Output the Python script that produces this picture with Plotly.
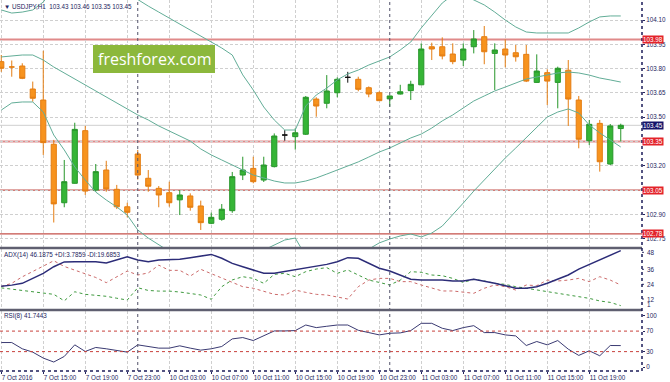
import plotly.graph_objects as go

# ---------------- data ----------------
bar_index = list(range(60))
open_ = [103.843,103.81,103.816,103.674,103.606,103.333,102.972,103.092,103.417,103.05,
         103.174,103.055,102.947,103.273,103.123,103.061,103.034,102.99,103.014,102.952,
         102.845,102.87,102.923,103.143,103.184,103.112,103.195,103.39,103.38,103.395,
         103.612,103.586,103.651,103.746,103.734,103.682,103.651,103.613,103.643,103.664,
         103.70,103.935,103.935,103.89,103.853,103.935,103.997,103.894,103.921,103.898,
         103.888,103.715,103.775,103.715,103.79,103.606,103.355,103.462,103.211,103.43]
high = [103.884,103.85,103.833,103.72,103.91,103.36,103.236,103.466,103.446,103.211,
        103.231,103.082,102.972,103.298,103.174,103.075,103.102,103.05,103.03,102.985,
        102.911,102.964,103.162,103.256,103.256,103.256,103.40,103.42,103.432,103.631,
        103.623,103.76,103.746,103.78,103.75,103.69,103.66,103.635,103.70,103.725,
        103.956,103.96,103.993,103.956,103.956,104.038,104.063,103.956,103.98,103.946,
        103.946,103.888,103.796,103.812,103.853,103.631,103.483,103.483,103.458,103.46]
low = [103.78,103.75,103.735,103.596,103.267,102.85,102.944,103.09,103.02,103.04,
       103.04,102.933,102.882,103.115,103.04,102.944,102.948,102.896,102.923,102.804,
       102.84,102.861,102.91,103.112,103.092,103.10,103.19,103.355,103.30,103.39,
       103.503,103.555,103.623,103.713,103.66,103.623,103.60,103.565,103.64,103.606,
       103.70,103.853,103.857,103.827,103.816,103.894,103.827,103.668,103.808,103.843,
       103.717,103.713,103.575,103.555,103.446,103.308,103.328,103.164,103.205,103.35]
close = [103.802,103.81,103.74,103.617,103.343,102.965,103.102,103.425,103.044,103.164,
         103.057,102.947,102.913,103.143,103.074,103.02,102.972,103.02,102.944,102.849,
         102.882,102.932,103.133,103.174,103.102,103.205,103.384,103.39,103.404,103.623,
         103.569,103.662,103.734,103.746,103.672,103.643,103.602,103.631,103.657,103.703,
         103.921,103.921,103.878,103.843,103.921,103.983,103.904,103.915,103.884,103.873,
         103.723,103.785,103.723,103.802,103.612,103.364,103.456,103.225,103.446,103.45]

bb_upper = [104.162,104.143,104.149,104.162,104.211,104.298,104.378,104.409,104.409,104.396,
            104.359,104.316,104.267,104.224,104.186,104.149,104.112,104.075,104.038,104.001,
            103.964,103.927,103.884,103.761,103.668,103.563,103.483,103.421,103.421,103.569,
            103.637,103.680,103.730,103.767,103.791,103.822,103.847,103.872,103.915,103.964,
            104.051,104.131,104.205,104.254,104.254,104.224,104.193,104.149,104.100,104.057,
            104.026,104.020,104.020,104.020,104.020,104.051,104.088,104.119,104.125,104.125]
bb_middle = [103.872,103.878,103.884,103.884,103.853,103.810,103.773,103.736,103.699,103.662,
             103.625,103.588,103.551,103.514,103.483,103.446,103.415,103.384,103.353,103.304,
             103.267,103.236,103.205,103.174,103.143,103.125,103.106,103.094,103.094,103.106,
             103.125,103.149,103.174,103.199,103.224,103.254,103.285,103.310,103.341,103.372,
             103.396,103.433,103.477,103.514,103.557,103.600,103.631,103.662,103.686,103.711,
             103.736,103.748,103.760,103.773,103.779,103.773,103.760,103.742,103.730,103.717]
bb_lower = [103.544,103.588,103.594,103.594,103.532,103.390,103.298,103.193,103.112,103.038,
            102.989,102.946,102.896,102.804,102.754,102.711,102.668,102.631,102.606,102.606,
            102.606,102.588,102.526,102.588,102.619,102.680,102.711,102.742,102.754,102.643,
            102.612,102.619,102.619,102.631,102.656,102.686,102.724,102.748,102.767,102.779,
            102.761,102.785,102.828,102.896,102.970,103.044,103.112,103.186,103.248,103.310,
            103.372,103.433,103.501,103.532,103.551,103.526,103.452,103.403,103.359,103.316]

adx = [18.8,19.6,21.0,24.8,28.7,33.8,37.5,37.7,37.7,37.7,36.6,39.0,41.5,39.0,37.7,39.0,
       39.0,39.5,40.8,42.3,43.3,40.3,36.4,33.8,31.3,28.7,28.7,30.0,31.3,32.6,33.8,35.6,
       37.7,40.8,40.3,36.4,32.6,30.5,27.4,24.1,23.6,23.6,23.6,22.8,22.8,24.1,22.8,21.0,
       19.2,17.2,17.2,18.4,21.0,24.1,27.4,32.0,35.6,39.0,42.8,46.1875]
plus_di = [17.5,16.5,15.5,14.5,13.5,12.5,7.5,14.5,12.5,12.0,11.0,9.5,8.1,17.6,15.5,15.0,
           15.0,14.3,13.0,12.0,8.7,18.4,23.6,26.1,24.8,21.0,27.9,28.7,26.1,30.0,32.0,33.1,
           28.7,31.3,27.4,23.5,21.7,19.7,23.5,30.0,29.5,27.4,26.9,24.8,21.7,24.1,22.8,21.0,
           20.2,18.4,17.2,15.8,14.6,13.3,12.0,10.7,9.4,7.4,6.3,3.7859]
minus_di = [18.5,21.0,26.0,30.0,34.0,38.4,34.0,31.0,28.5,25.5,21.5,26.0,30.5,27.4,29.0,35.0,
            31.0,31.0,26.6,31.8,28.5,25.0,21.5,18.4,17.2,14.6,12.5,12.0,15.8,14.0,12.5,12.0,
            10.7,8.9,18.4,23.5,24.8,24.8,22.3,22.3,19.7,17.6,15.1,15.1,14.0,13.3,17.2,19.7,
            18.4,15.8,19.7,19.2,23.5,22.8,23.5,24.8,22.3,26.1,23.5,19.6853]
rsi = [47.7,47.7,35.5,29.0,17.4,9.7,20.6,43.2,30.3,38.1,35.5,31.6,29.0,43.2,40.0,36.8,
       36.8,41.3,36.8,32.9,35.5,40.0,54.8,57.4,51.6,61.3,70.3,70.3,71.0,81.9,76.8,79.4,
       81.9,81.9,71.6,67.1,62.6,65.8,66.5,71.0,85.2,85.2,75.5,71.0,76.8,80.6,67.1,67.1,
       62.6,60.6,41.9,49.7,43.2,51.6,34.8,22.6,31.6,21.9,41.9,41.7443]

tick_idx = [0, 4, 8, 12, 16, 20, 24, 28, 32, 36, 40, 44, 48, 52, 56]
tick_text = ["7 Oct 2016", "7 Oct 15:00", "7 Oct 19:00", "7 Oct 23:00", "10 Oct 03:00",
             "10 Oct 07:00", "10 Oct 11:00", "10 Oct 15:00", "10 Oct 19:00", "10 Oct 23:00",
             "11 Oct 03:00", "11 Oct 07:00", "11 Oct 11:00", "11 Oct 15:00", "11 Oct 19:00"]
day_start_idx = [13, 37]
price_ticks = [102.75, 102.90, 103.05, 103.20, 103.35, 103.50, 103.65, 103.80, 103.95, 104.10]
levels = [103.98, 103.35, 103.05, 102.78]
bid = 103.45
adx_tick_text = ["48", "36", "24", "12", "1"]
adx_tick_rows = [252.3, 269.3, 284.3, 299.0, 304.0]   # label rows (pixels) as drawn in the reference
rsi_ticks = [0, 30, 70, 100]
rsi_levels = [30, 70]
title_text = "\u25bc USDJPY,H1  103.43 103.46 103.35 103.45"
adx_text = "ADX(14) 46.1875 +DI:3.7859 -DI:19.6853"
rsi_text = "RSI(8) 41.7443"
watermark = "freshforex.com"

# ---------------- styling ----------------
W, H = 670, 382
ML, MR, MT, MB = 0, 28, 0, 11
PH = H - MT - MB
def py(pix):  # pixel row -> paper y
    return (PH - pix) / PH

GREEN, GREEN_L = "#36b536", "#27962a"
ORANGE, ORANGE_L = "#f7931e", "#e47d12"
BB = "#62ad97"
NAVY = "#24245e"
GRID = "#cfcfcf"
FONT = "Liberation Sans"
FS = 6.3

fig = go.Figure()

doji = [i for i in bar_index if open_[i] == close[i]]
body = [i for i in bar_index if open_[i] != close[i]]

def sub(arr, idx):
    return [arr[i] for i in idx]

fig.add_trace(go.Candlestick(
    x=body, open=sub(open_, body), high=sub(high, body), low=sub(low, body), close=sub(close, body),
    increasing=dict(fillcolor=GREEN, line=dict(color=GREEN_L, width=1)),
    decreasing=dict(fillcolor=ORANGE, line=dict(color=ORANGE_L, width=1)),
    whiskerwidth=0, hoverinfo="skip", showlegend=False, xaxis="x", yaxis="y"))
for i in doji:
    c = ORANGE_L if i == 1 else "#111111"
    fig.add_trace(go.Candlestick(
        x=[i], open=[open_[i]], high=[high[i]], low=[low[i]], close=[close[i]],
        increasing=dict(fillcolor=c, line=dict(color=c, width=1)),
        decreasing=dict(fillcolor=c, line=dict(color=c, width=1)),
        whiskerwidth=0, hoverinfo="skip", showlegend=False, xaxis="x", yaxis="y"))

for arr in (bb_upper, bb_middle, bb_lower):
    fig.add_trace(go.Scatter(x=bar_index, y=arr, mode="lines", line=dict(color=BB, width=1),
                             hoverinfo="skip", showlegend=False, xaxis="x", yaxis="y"))

fig.add_trace(go.Scatter(x=bar_index, y=minus_di, mode="lines", line=dict(color="#cc6a6a", width=1, dash="dot"),
                         hoverinfo="skip", showlegend=False, xaxis="x2", yaxis="y2"))
fig.add_trace(go.Scatter(x=bar_index, y=plus_di, mode="lines", line=dict(color="#3f9a3f", width=1, dash="dot"),
                         hoverinfo="skip", showlegend=False, xaxis="x2", yaxis="y2"))
fig.add_trace(go.Scatter(x=bar_index, y=adx, mode="lines", line=dict(color="#2c2c78", width=1.5),
                         hoverinfo="skip", showlegend=False, xaxis="x2", yaxis="y2"))
fig.add_trace(go.Scatter(x=bar_index, y=rsi, mode="lines", line=dict(color="#3a3a72", width=1),
                         hoverinfo="skip", showlegend=False, xaxis="x3", yaxis="y3"))

xr = [-0.12, -0.12 + 642 / 10.5]
xcommon = dict(range=xr, tickvals=tick_idx, showgrid=True, gridcolor=GRID, griddash="3px,2px",
               gridwidth=1, zeroline=False, showline=False, fixedrange=True, automargin=False)
main_dom = [py(247), 1]
adx_dom = [py(309), py(249)]
rsi_dom = [0, py(311)]

price_text = ["" if (abs(v - 103.35) < 1e-9 or abs(v - 103.05) < 1e-9) else f"{v:.2f}" for v in price_ticks]

fig.update_layout(
    width=W, height=H, margin=dict(l=ML, r=MR, t=MT, b=MB, autoexpand=False),
    paper_bgcolor="white", plot_bgcolor="white",
    font=dict(family=FONT, size=FS, color=NAVY),
    xaxis=dict(**xcommon, anchor="y", showticklabels=False, rangeslider=dict(visible=False)),
    xaxis2=dict(**xcommon, anchor="y2", showticklabels=False),
    xaxis3=dict(**xcommon, anchor="y3", ticktext=tick_text, ticks="outside", ticklen=2,
                tickcolor=NAVY, ticklabelposition="outside right", tickangle=0,
                tickfont=dict(size=FS, color=NAVY, family=FONT)),
    yaxis=dict(domain=main_dom, range=[104.2235 - 247 / 162, 104.2235], side="right",
               tickvals=price_ticks, ticktext=price_text, showgrid=True, gridcolor=GRID,
               griddash="3px,2px", zeroline=False, ticks="outside", ticklen=2, tickcolor=NAVY,
               tickfont=dict(size=FS, color=NAVY), fixedrange=True, automargin=False),
    yaxis2=dict(domain=adx_dom, range=[1.2, 47.46], side="right", showgrid=False, zeroline=False,
                showticklabels=False, fixedrange=True, automargin=False),
    yaxis3=dict(domain=rsi_dom, range=[-7.8, 109.2], side="right", tickvals=rsi_ticks,
                showgrid=False, zeroline=False, ticks="outside", ticklen=2, tickcolor=NAVY,
                tickfont=dict(size=FS, color=NAVY), fixedrange=True, automargin=False),
)

shapes = []
shapes.append(dict(type="line", xref="x domain", yref="y", x0=0, x1=1, y0=bid, y1=bid,
                   line=dict(color="#cfcfcf", width=1), layer="below"))
for lv in levels:
    col = "#e08a8a" if lv in (103.98, 103.35) else "#c4504a"
    wd = 2 if lv in (103.98, 103.35) else 1.3
    shapes.append(dict(type="line", xref="x domain", yref="y", x0=0, x1=1, y0=lv, y1=lv,
                       line=dict(color=col, width=wd), layer="below"))
for lv in rsi_levels:
    shapes.append(dict(type="line", xref="x3 domain", yref="y3", x0=0, x1=1, y0=lv, y1=lv,
                       line=dict(color="#c8403c", width=1, dash="dot")))
for d in day_start_idx:
    shapes.append(dict(type="line", xref="x", yref="paper", x0=d, x1=d, y0=0, y1=1,
                       line=dict(color="#505068", width=1, dash="dot")))
for pix in (248, 310):
    shapes.append(dict(type="line", xref="paper", yref="paper", x0=0, x1=1, y0=py(pix), y1=py(pix),
                       line=dict(color="#5f5f70", width=2.5)))
shapes.append(dict(type="line", xref="paper", yref="paper", x0=1, x1=1, y0=0, y1=1,
                   line=dict(color="#1c1c5a", width=1.5, dash="dot")))
shapes.append(dict(type="line", xref="paper", yref="paper", x0=0, x1=1, y0=0, y1=0,
                   line=dict(color="#1c1c5a", width=1.5, dash="dot")))
for pix in adx_tick_rows[:4]:
    shapes.append(dict(type="line", xref="paper", yref="paper", x0=1, x1=1.003, y0=py(pix), y1=py(pix),
                       line=dict(color=NAVY, width=1)))
shapes.append(dict(type="rect", xref="paper", yref="paper", x0=93 / 642, x1=215 / 642,
                   y0=py(73), y1=py(45), fillcolor="#8cb83c", line=dict(width=0)))
fig.update_layout(shapes=shapes)

ann = []
ann.append(dict(xref="paper", yref="paper", x=155 / 642, y=py(59), text=watermark, showarrow=False,
                font=dict(family="Open Sans", size=16, color="white"), xanchor="center", yanchor="middle"))
ann.append(dict(xref="paper", yref="paper", x=2 / 642, y=py(7), text=title_text, showarrow=False,
                xanchor="left", yanchor="middle", font=dict(size=FS, color=NAVY)))
ann.append(dict(xref="paper", yref="paper", x=2 / 642, y=py(255), text=adx_text, showarrow=False,
                xanchor="left", yanchor="middle", font=dict(size=FS, color=NAVY)))
ann.append(dict(xref="paper", yref="paper", x=2 / 642, y=py(316), text=rsi_text, showarrow=False,
                xanchor="left", yanchor="middle", font=dict(size=FS, color=NAVY)))
for t, pix in zip(adx_tick_text, adx_tick_rows):
    ann.append(dict(xref="paper", yref="paper", x=1, y=py(pix), xshift=3, text=t, showarrow=False,
                    xanchor="left", yanchor="middle", font=dict(size=FS, color=NAVY)))
for lv in levels:
    ann.append(dict(xref="paper", yref="y", x=1, y=lv, xshift=0, text=f"{lv:.2f}", showarrow=False,
                    xanchor="left", yanchor="middle", bgcolor="#e3232a", borderpad=0,
                    font=dict(size=FS, color="white")))
ann.append(dict(xref="paper", yref="y", x=1, y=bid, xshift=0, text=f"{bid:.2f}", showarrow=False,
                xanchor="left", yanchor="middle", bgcolor="#14146a", borderpad=0,
                font=dict(size=FS, color="white")))
fig.update_layout(annotations=ann)

fig.write_html("out.html", config={"displayModeBar": False, "staticPlot": True},
               post_script="document.body.style.margin='0px';document.body.style.overflow='hidden';")
